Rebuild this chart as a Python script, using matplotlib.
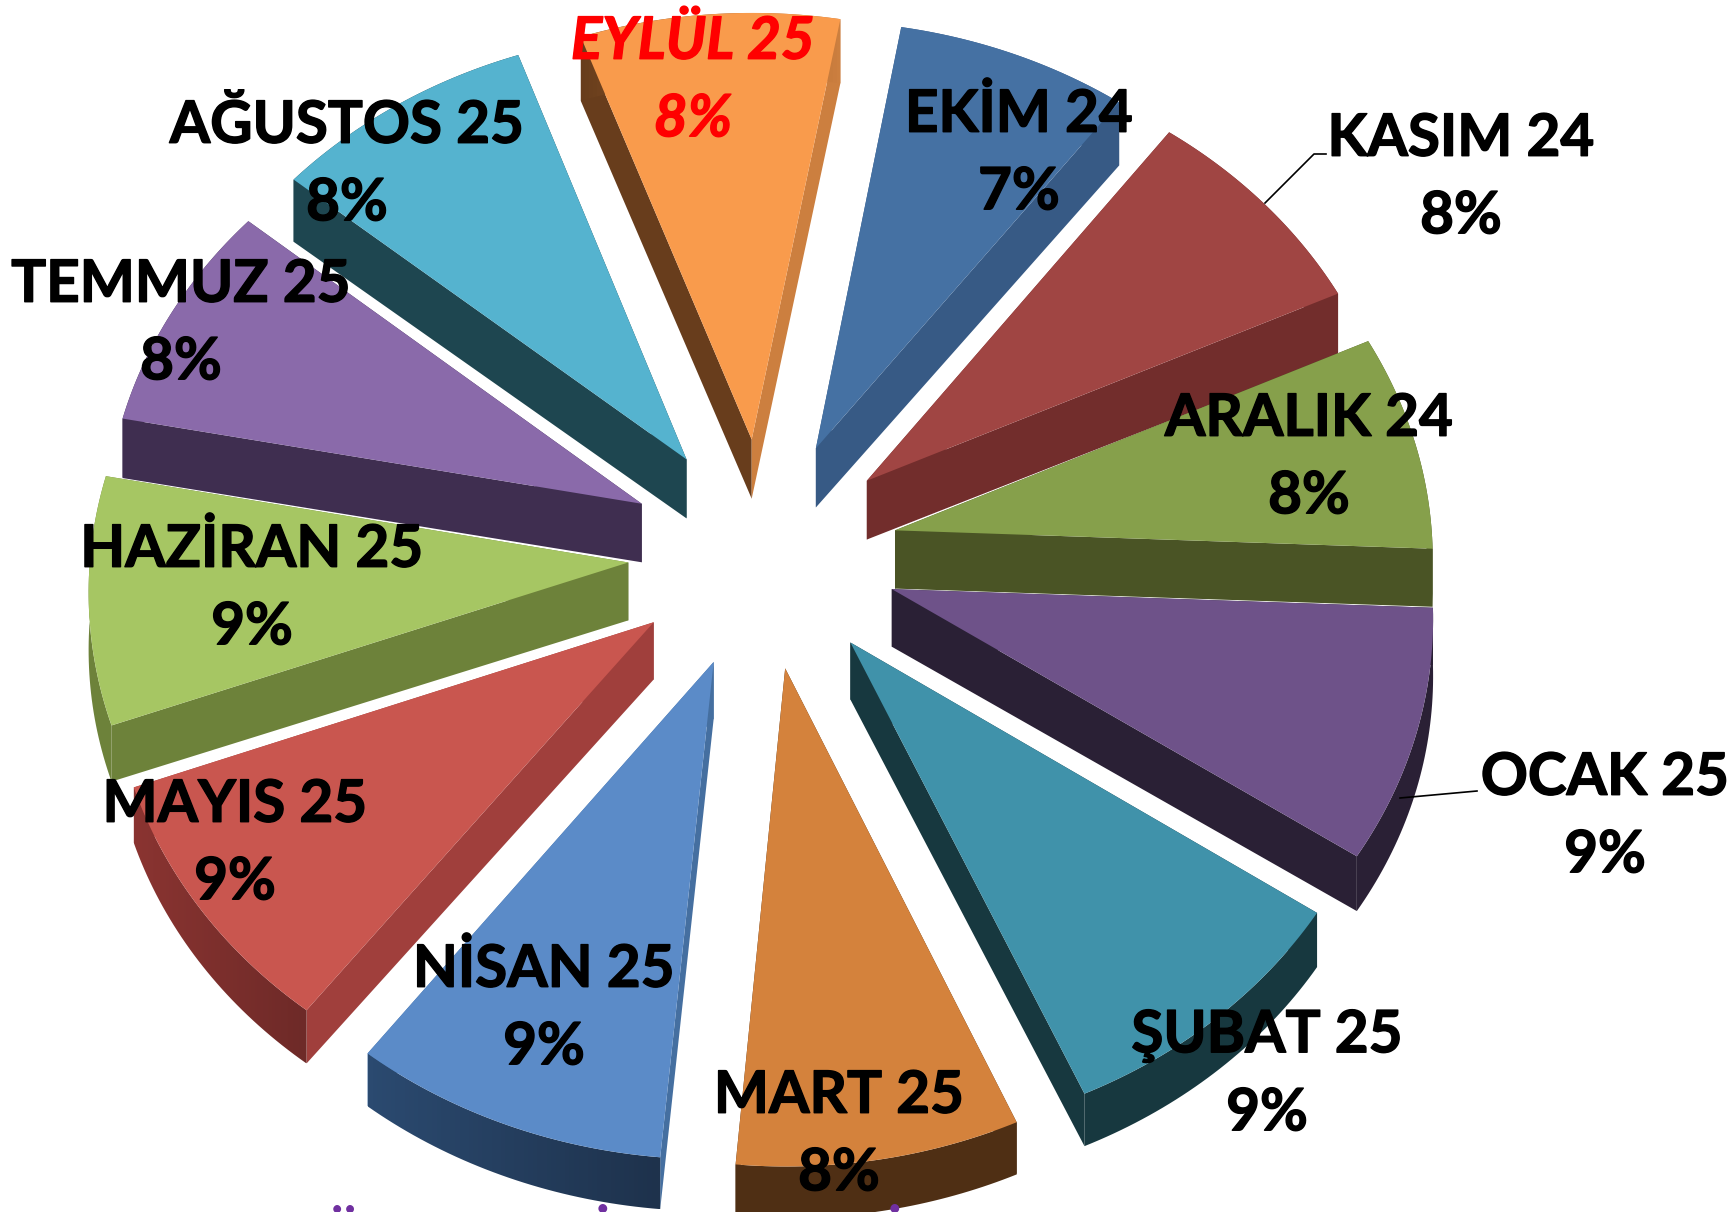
import numpy as np
import matplotlib
matplotlib.use('Agg')
from matplotlib import pyplot as plt
from matplotlib.colors import to_rgb
from matplotlib.patches import Polygon
from matplotlib import patheffects as pe

plt.rcParams['font.family'] = ['Lato', 'DejaVu Sans']

months = ['EKİM 24', 'KASIM 24', 'ARALIK 24', 'OCAK 25', 'ŞUBAT 25', 'MART 25',
          'NİSAN 25', 'MAYIS 25', 'HAZİRAN 25', 'TEMMUZ 25', 'AĞUSTOS 25', 'EYLÜL 25']
shares = [7.42, 7.86, 7.58, 8.81, 8.96, 8.0, 8.94, 9.01, 8.67, 8.06, 8.42, 8.28]

top_colors = ['#4571A3', '#A04543', '#86A04B', '#6E5289', '#4092AA', '#D4823C',
              '#5B8BC8', '#C9564F', '#A6C663', '#8A6AAA', '#55B3CF', '#F99B4C']
# arc wall shades, screen left and screen right
arc_left = ['#375A85', '#722D2C', '#4A5425', '#2A2035', '#17383F', '#4F2F14',
            '#2B4A70', '#8A3431', '#6D823A', '#3F2E50', '#1E4650', '#683D1C']
arc_right = ['#375A85', '#722D2C', '#4A5425', '#2A2035', '#17383F', '#4F2F14',
             '#1E324C', '#6E2A28', '#6D823A', '#3F2E50', '#1E4650', '#CC7F3F']
start_colors = ['#375A85', '#722D2C', '#4A5425', '#2A2035', '#17383F', '#4F2F14',
                '#456FA0', '#A03F3C', '#6D823A', '#3F2E50', '#1E4650', '#683D1C']
end_colors = ['#375A85', '#722D2C', '#4A5425', '#2A2035', '#17383F', '#4F2F14',
              '#456FA0', '#A03F3C', '#6D823A', '#3F2E50', '#1E4650', '#CC7F3F']

label_x = [1019, 1461, 1309, 1605, 1267, 839, 544, 235, 252, 181, 347, 693]
label_y = [154, 178, 458, 817, 1075, 1135, 1009, 844, 589, 324, 165, 81]

# view of the pie
cx, cy = 763, 553
radius = 538
explode = 135
tilt = 0.855
persp = 10400
start_angle = 10.0


def project(X, Y):
    s = 1 / (1 + Y / persp)
    return cx + X * s, cy - Y * tilt * s


def depth(Y):
    return 53 + 10 * (Y + radius) / (2 * radius)


fig = plt.figure(figsize=(17.28, 12.12), dpi=100)
ax = fig.add_axes([0, 0, 1, 1])

edges = start_angle + 3.6 * np.concatenate([[0], np.cumsum(shares)])
mids = np.radians((edges[:-1] + edges[1:]) / 2)

# back slices first
z = 1
for i in np.argsort(-np.cos(mids)):
    a = np.radians(np.linspace(edges[i], edges[i + 1], 40))
    ox = explode * np.sin(mids[i])
    oy = explode * np.cos(mids[i])
    X = np.concatenate([[ox], ox + radius * np.sin(a)])
    Y = np.concatenate([[oy], oy + radius * np.cos(a)])
    sx, sy = project(X, Y)
    low = sy + depth(Y)
    pts = np.column_stack([sx, sy])
    pts_low = np.column_stack([sx, low])

    start_wall = [pts[0], pts[1], pts_low[1], pts_low[0]]
    end_wall = [pts[0], pts[-1], pts_low[-1], pts_low[0]]
    arc_wall = np.vstack([pts[1:], pts_low[1:][::-1]])
    ax.add_patch(Polygon(start_wall, fc=start_colors[i], ec='none', zorder=z))
    ax.add_patch(Polygon(end_wall, fc=end_colors[i], ec='none', zorder=z))

    if arc_left[i] == arc_right[i]:
        ax.add_patch(Polygon(arc_wall, fc=arc_left[i], ec='none', zorder=z))
    else:
        ramp = np.linspace(to_rgb(arc_left[i]), to_rgb(arc_right[i]), 64)[None, :, :]
        im = ax.imshow(ramp, extent=[arc_wall[:, 0].min(), arc_wall[:, 0].max(),
                                     arc_wall[:, 1].max(), arc_wall[:, 1].min()],
                       aspect='auto', zorder=z)
        clip = Polygon(arc_wall, fc='none', ec='none', transform=ax.transData)
        im.set_clip_path(clip)
    ax.add_patch(Polygon(pts, fc=top_colors[i], ec='none', zorder=z + 0.5))
    z += 1

ax.set_xlim(0, 1728)
ax.set_ylim(1212, 0)
ax.axis('off')

ax.plot([1265, 1314, 1326], [203, 154, 154], color='black', lw=1.2, zorder=z)
ax.plot([1400, 1477], [798, 791], color='black', lw=1.2, zorder=z)

for i, m in enumerate(months):
    eylul = m.startswith('EYL')
    color = '#FF0000' if eylul else 'black'
    ax.text(label_x[i], label_y[i], f'{m}\n{round(shares[i])}%', ha='center', va='center',
            fontsize=42, fontweight='bold', linespacing=1.57,
            color=color, style='italic' if eylul else 'normal', zorder=z + 1,
            path_effects=[pe.withStroke(linewidth=1.0, foreground=color)])

# top of a line of text cut off by the picture edge
for x, ch in zip([344, 602, 894], ['Ü', 'İ', 'İ']):
    ax.text(x, 1214, ch, ha='center', va='top', fontsize=42, fontweight='bold',
            color='#7030A0', clip_on=True, zorder=z + 1)

plt.savefig('out.png', dpi=100)
